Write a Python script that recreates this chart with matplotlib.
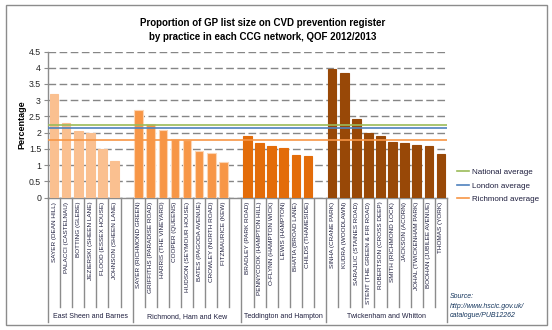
import matplotlib
matplotlib.use("Agg")
import matplotlib.pyplot as plt
from matplotlib.patches import Rectangle
from matplotlib.lines import Line2D

plt.rcParams['font.family'] = ['Liberation Sans Narrow', 'Liberation Sans', 'DejaVu Sans']

# Practices per CCG network
groups = ["East Sheen and Barnes", "Richmond, Ham and Kew",
          "Teddington and Hampton", "Twickenham and Whitton"]

east_sheen_names = ["SAYER (DEAN HILL)", "PALACCI (CASTELNAU)", "BOTTING (GLEBE)",
                    "JEZIERSKI (SHEEN LANE)", "FLOOD (ESSEX HOUSE)", "JOHNSON (SHEEN LANE)"]
east_sheen_vals = [3.19, 2.30, 2.06, 2.00, 1.50, 1.13]

richmond_names = ["SAYER (RICHMOND GREEN)", "GRIFFITHS (PARADISE ROAD)", "HARRIS (THE VINEYARD)",
                  "COOPER (QUEENS)", "HUDSON (SEYMOUR HOUSE)", "BATES (PAGODA AVENUE)",
                  "CROWLEY (NORTH ROAD)", "FITZMAURICE (KEW)"]
richmond_vals = [2.69, 2.28, 2.08, 1.81, 1.77, 1.45, 1.38, 1.11]

teddington_names = ["BRADLEY (PARK ROAD)", "PENNYCOOK (HAMPTON HILL)", "O-FLYNN (HAMPTON WICK)",
                    "LEWIS (HAMPTON)", "BHATIA (BROAD LANE)", "CHILDS (THAMESIDE)"]
teddington_vals = [1.90, 1.68, 1.59, 1.53, 1.31, 1.28]

twickenham_names = ["SINHA (CRANE PARK)", "KUDRA (WOODLAWN)", "SARAJLIC (STAINES ROAD)",
                    "STENT (THE GREEN & FIR ROAD)", "ROBERTSON (CROSS DEEP)", "SMITH (RICHMOND LOCK)",
                    "JACKSON (ACORN)", "JOHAL (TWICKENHAM PARK)", "BOOHAN (JUBILEE AVENUE)",
                    "THOMAS (YORK)"]
twickenham_vals = [3.96, 3.84, 2.42, 1.99, 1.90, 1.71, 1.68, 1.62, 1.59, 1.34]

national_avg = 2.23
london_avg = 2.14
richmond_avg = 1.77

group_names = [east_sheen_names, richmond_names, teddington_names, twickenham_names]
group_vals = [east_sheen_vals, richmond_vals, teddington_vals, twickenham_vals]
group_colors = ["#FAC090", "#F79646", "#E36C09", "#984807"]

W, H = 552, 330
fig = plt.figure(figsize=(W / 100, H / 100), dpi=100)

# outer chart border
fig.patches.append(Rectangle((6 / W, 5 / H), 541 / W, 320 / H, transform=fig.transFigure,
                             fill=False, edgecolor="#8C8C8C", linewidth=1.0))

ax_left, ax_right, ax_top, ax_bottom = 48, 447, 51.5, 197.7
ax = fig.add_axes([ax_left / W, 1 - ax_bottom / H, (ax_right - ax_left) / W,
                   (ax_bottom - ax_top) / H])

# lay out categories: practices of each group followed by one empty slot (not after the last)
pos = 0
group_spans = []
cat_labels = []
for gi, (names, vals, col) in enumerate(zip(group_names, group_vals, group_colors)):
    start = pos
    xs = list(range(pos, pos + len(names)))
    edge = "#FCD5B4" if gi == 1 else col
    ax.bar(xs, vals, width=0.72, color=col, edgecolor=edge, linewidth=0.8, zorder=3)
    cat_labels += list(zip(xs, names))
    pos += len(names)
    if gi < len(group_names) - 1:
        pos += 1
    group_spans.append((start - 0.5, pos - 0.5))
n_cats = pos

ax.set_xlim(-0.5, n_cats - 0.5)
ax.set_ylim(0, 4.5)
ax.set_yticks([i * 0.5 for i in range(10)])
ax.set_yticklabels(["0", "0.5", "1", "1.5", "2", "2.5", "3", "3.5", "4", "4.5"],
                   fontsize=6.3, color="#262626", family=["Liberation Sans", "DejaVu Sans"])
ax.tick_params(axis="y", length=3, color="#8C8C8C", pad=2)
ax.set_xticks([])
ax.yaxis.grid(True, color="#868686", linestyle=(0, (5.5, 2.5)), linewidth=1.0, zorder=0)
for s in ["top", "right"]:
    ax.spines[s].set_visible(False)
for s in ["left", "bottom"]:
    ax.spines[s].set_color("#8C8C8C")
    ax.spines[s].set_linewidth(1.0)

ax.set_ylabel("Percentage", fontsize=6.5, fontweight="bold", labelpad=2,
              family=["Liberation Sans", "DejaVu Sans"])

# average lines
l_nat = ax.axhline(national_avg, color="#9BBB59", linewidth=1.2, zorder=4)
l_lon = ax.axhline(london_avg, color="#4F81BD", linewidth=1.2, zorder=4)
l_ric = ax.axhline(richmond_avg, color="#F79646", linewidth=1.2, zorder=4)

# category labels and separators below the axis
tr = ax.get_xaxis_transform()
axh = ax_bottom - ax_top
short_y = -(306.7 - ax_bottom) / axh
long_y = -(321.7 - ax_bottom) / axh
for x, name in cat_labels:
    ax.text(x, -4 / axh, name, rotation=90, ha="center", va="top", fontsize=4.6,
            color="#1F1F3F", transform=tr, clip_on=False)
for b in range(n_cats + 1):
    xb = b - 0.5
    is_long = any(abs(xb - s) < 1e-6 or abs(xb - e) < 1e-6 for s, e in group_spans)
    ax.add_line(Line2D([xb, xb], [0, long_y if is_long else short_y], transform=tr,
                       color="#8C8C8C", linewidth=1.0, clip_on=False))
for (s, e), gname in zip(group_spans, groups):
    ax.text((s + e) / 2, -(317 - ax_bottom) / axh, gname, ha="center", va="center",
            fontsize=5.0, color="#1F1F3F", transform=tr, clip_on=False,
            family=["Liberation Sans", "DejaVu Sans"])

# title
fig.text(263 / W, 1 - 30 / H,
         "Proportion of GP list size on CVD prevention register\nby practice in each CCG network, QOF 2012/2013",
         ha="center", va="center", fontsize=7, fontweight="bold", linespacing=1.45,
         family=["Liberation Sans", "DejaVu Sans"])

# legend
leg = fig.legend([l_nat, l_lon, l_ric], ["National average", "London average", "Richmond average"],
                 loc="upper left", bbox_to_anchor=(450 / W, 1 - 161 / H), frameon=False,
                 handlelength=1.5, handletextpad=0.3, labelspacing=0.75,
                 prop={"family": ["Liberation Sans", "DejaVu Sans"], "size": 5.8})
for t in leg.get_texts():
    t.set_color("#1F1F3F")

# source note
fig.text(450 / W, 1 - 306 / H, "Source:\nhttp://www.hscic.gov.uk/\ncatalogue/PUB12262",
         ha="left", va="center", fontsize=5.0, style="italic", color="#17375E",
         linespacing=1.45, family=["Liberation Sans", "DejaVu Sans"])

fig.savefig("out.png", dpi=100)
